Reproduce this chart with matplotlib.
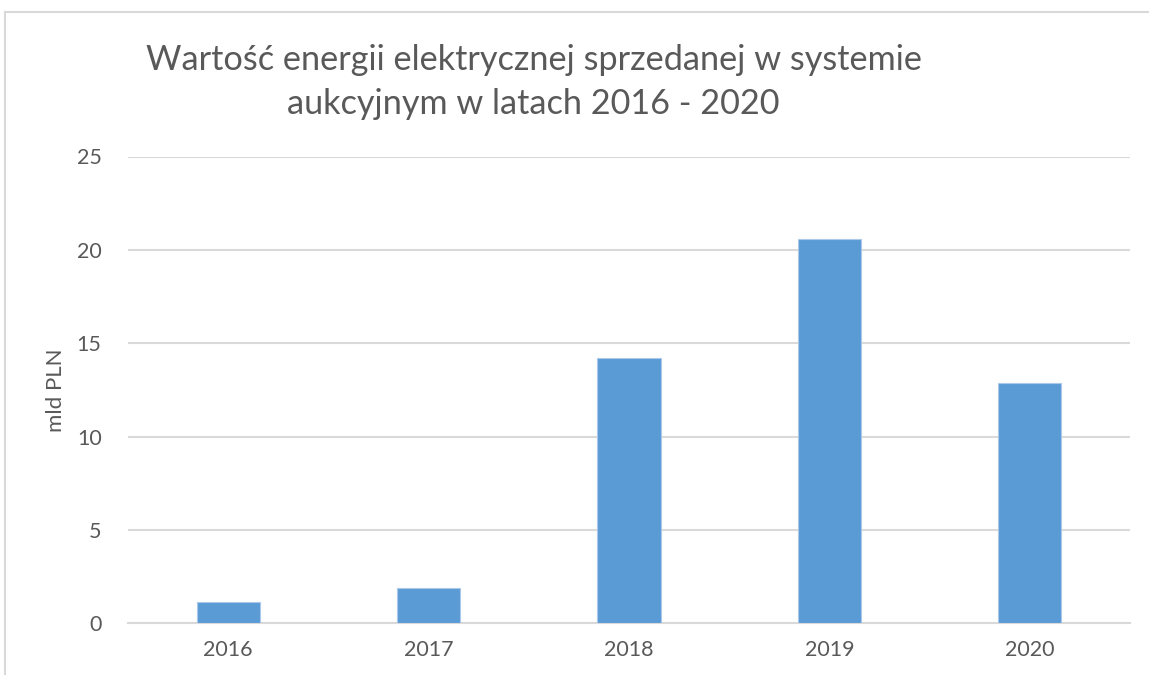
import matplotlib
matplotlib.use('Agg')
import matplotlib.pyplot as plt
from matplotlib.lines import Line2D

years = ['2016', '2017', '2018', '2019', '2020']
values = [1.16, 1.91, 14.23, 20.57, 12.87]
yticks = [0, 5, 10, 15, 20, 25]

TXT = '#595959'
GRID = '#d9d9d9'
BAR = '#5b9bd5'
W, H = 1149, 675

plt.rcParams['font.family'] = ['Lato', 'DejaVu Sans']

fig = plt.figure(figsize=(W / 100, H / 100), dpi=100)
ax = fig.add_axes([128 / W, 1 - 623.3 / H, (1130 - 128) / W, (623.3 - 156.5) / H])

x = list(range(len(years)))
ax.bar(x, values, width=0.315, color=BAR, edgecolor='#a9c8ea', linewidth=0.8, zorder=3)

ax.set_xlim(-0.5, len(years) - 0.5)
ax.set_ylim(0, 25)
ax.set_yticks(yticks)
ax.set_xticks(x)
ax.set_xticklabels(years)
ax.yaxis.grid(True, color=GRID, linewidth=1.5, zorder=0)
ax.set_axisbelow(True)
for s in ['top', 'right', 'left']:
    ax.spines[s].set_visible(False)
ax.spines['bottom'].set_color(GRID)
ax.spines['bottom'].set_linewidth(1.5)
ax.tick_params(axis='both', length=0, labelsize=15.5, labelcolor=TXT)
ax.tick_params(axis='y', pad=19)
ax.tick_params(axis='x', pad=12)

# y-axis title
fig.text(56 / W, 1 - 390 / H, 'mld PLN', rotation=90, ha='center', va='center',
         fontsize=16, color=TXT)

# chart title (two lines, centred)
fig.text(533.5 / W, 1 - 70 / H, 'Wartość energii elektrycznej sprzedanej w systemie',
         ha='center', va='baseline', fontsize=24.7, color=TXT)
fig.text(533.5 / W, 1 - 114 / H, 'aukcyjnym w latach 2016 - 2020',
         ha='center', va='baseline', fontsize=24.7, color=TXT)

# chart area border (cropped Excel frame)
fig.add_artist(Line2D([5 / W, 1], [1 - 12 / H, 1 - 12 / H], color=GRID, linewidth=1.5))
fig.add_artist(Line2D([5 / W, 5 / W], [0, 1 - 12 / H], color=GRID, linewidth=1.5))

fig.savefig('out.png', dpi=100, facecolor='white')
